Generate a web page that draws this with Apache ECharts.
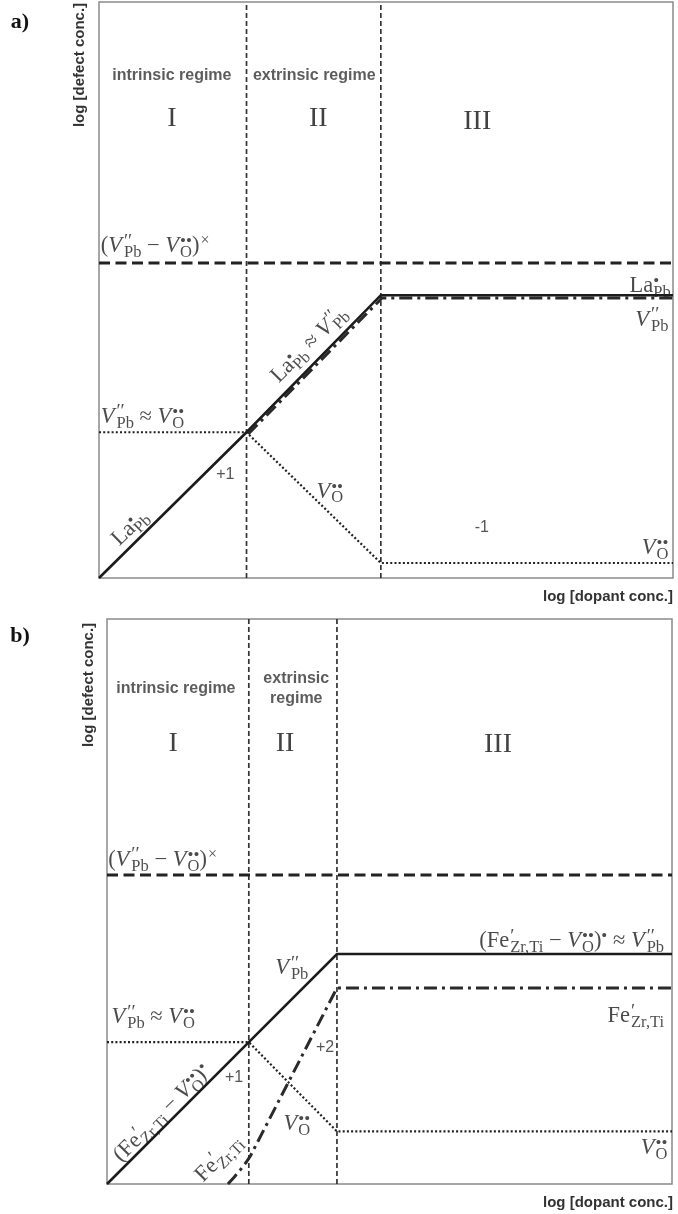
<!DOCTYPE html>
<html>
<head>
<meta charset="utf-8">
<script src="https://cdn.jsdelivr.net/npm/echarts@6/dist/echarts.min.js"></script>
<style>
  html, body { margin: 0; padding: 0; background: #fff; }
  #chart { width: 678px; height: 1214px; }
</style>
</head>
<body>
<div id="chart"></div>
<script>
// Brouwer-type defect diagrams, log[defect conc.] vs log[dopant conc.] (arbitrary log units 0..10)

// ---- a) donor (La) doping ----
const aBounds = [2.57, 4.91];              // regime I/II and II/III borders
const aAssocLevel = 5.47;                  // neutral (V''Pb - V..O)x associates
const aLaX = [0, 2.57, 4.91, 10];          // La.Pb
const aLaY = [0, 2.53, 4.91, 4.91];
const aVpbX = [2.6, 4.93, 10];             // V''Pb (regimes II, III)
const aVpbY = [2.5, 4.86, 4.86];
const aVoX = [0, 2.57, 4.91, 10];          // V..O
const aVoY = [2.53, 2.53, 0.26, 0.26];

// ---- b) acceptor (Fe) doping ----
const bBounds = [2.51, 4.07];
const bAssocLevel = 5.47;
const bClusterX = [0, 2.51, 4.07, 10];     // (Fe'Zr,Ti - V..O). ~ V''Pb
const bClusterY = [0, 2.51, 4.07, 4.07];
const bVoX = [0, 2.51, 4.07, 10];          // V..O
const bVoY = [2.51, 2.51, 0.93, 0.93];
const bFeX = [2.14, 2.25, 2.36, 2.46, 2.54, 4.07, 10];   // free Fe'Zr,Ti
const bFeY = [0, 0.12, 0.25, 0.38, 0.5, 3.47, 3.47];

// ---- text styles ----
const SERIF = '"Liberation Serif", "DejaVu Serif", serif';
const SANS = '"Liberation Sans", Arial, sans-serif';
const INK = '#1e1e1e';
const LH = 32;
const rich = {
  r:   { fontFamily: SERIF, fontSize: 22.5, color: INK, align: 'left', lineHeight: LH },
  v:   { fontFamily: SERIF, fontSize: 22.5, fontStyle: 'italic', color: INK, align: 'left', lineHeight: LH, padding: [0, 1, 0, 0] },
  sb:  { fontFamily: SERIF, fontSize: 16.5, color: INK, align: 'left', verticalAlign: 'bottom', padding: [0, 0, 1, 0] },
  sp:  { fontFamily: SERIF, fontSize: 16, color: INK, align: 'left', verticalAlign: 'top', padding: [3, 0, 0, 1] },
  spz: { fontFamily: SERIF, fontSize: 19, color: INK, align: 'left', verticalAlign: 'top', padding: [2, 0, 0, 1], width: 0 },
  dt:  { fontFamily: SERIF, fontSize: 17, color: INK, align: 'left', verticalAlign: 'top', padding: [3, 0, 0, 0] },
  dtz: { fontFamily: SERIF, fontSize: 17, color: INK, align: 'left', verticalAlign: 'top', padding: [3, 0, 0, 0], width: 0 },
  n:   { fontFamily: SANS, fontSize: 16, color: '#2a2a2a' },
  h:   { fontFamily: SANS, fontSize: 16, fontWeight: 'bold', color: '#333', lineHeight: 20 },
  rn:  { fontFamily: SERIF, fontSize: 28, color: '#111' }
};

// species symbols
const VPB = '{v|V}{spz|\u2032\u2032}{sb|Pb}';
const VO = '{v|V}{dtz|\u2022\u2022}{sb|O}';
const LA = '{r|La}{dtz|\u2022}{sb|Pb}';
const FE = '{r|Fe}{spz|\u2032}{sb|Zr,Ti}';
const APPROX = '{r| \u2248 }';
const MINUS = '{r| \u2212 }';
const ASSOC = '{r|(}' + VPB + MINUS + VO + '{r|)}{sp|\u00d7}';
const CLUSTER = '{r|(}' + FE + MINUS + VO + '{r|)}{dt|\u2022}';

// annotations placed in axis units
const notesA = [
  { x: 1.27, y: 8.73, t: '{h|intrinsic regime}' },
  { x: 3.75, y: 8.73, t: '{h|extrinsic regime}' },
  { x: 1.27, y: 7.97, t: '{rn|I}' },
  { x: 3.82, y: 7.97, t: '{rn|II}' },
  { x: 6.59, y: 7.93, t: '{rn|III}' },
  { x: 0.03, y: 5.76, t: ASSOC, align: 'left' },
  { x: 9.96, y: 5.07, t: LA, align: 'right' },
  { x: 9.92, y: 4.48, t: VPB, align: 'right' },
  { x: 9.92, y: 0.52, t: VO, align: 'right' },
  { x: 0.03, y: 2.8, t: VPB + APPROX + VO, align: 'left' },
  { x: 2.2, y: 1.79, t: '{n|+1}' },
  { x: 6.67, y: 0.87, t: '{n|-1}' },
  { x: 0.54, y: 0.87, t: LA, rot: 44 },
  { x: 4.02, y: 1.5, t: VO },
  { x: 3.66, y: 4.05, t: LA + APPROX + VPB, rot: 45 }
];
const notesB = [
  { x: 1.22, y: 8.76, t: '{h|intrinsic regime}' },
  { x: 3.35, y: 8.76, t: '{h|extrinsic}\n{h|regime}' },
  { x: 1.17, y: 7.79, t: '{rn|I}' },
  { x: 3.15, y: 7.79, t: '{rn|II}' },
  { x: 6.92, y: 7.77, t: '{rn|III}' },
  { x: 0.02, y: 5.74, t: ASSOC, align: 'left' },
  { x: 0.08, y: 2.95, t: VPB + APPROX + VO, align: 'left' },
  { x: 3.27, y: 3.82, t: VPB },
  { x: 2.25, y: 1.89, t: '{n|+1}' },
  { x: 3.86, y: 2.41, t: '{n|+2}' },
  { x: 3.36, y: 1.06, t: VO },
  { x: 0.98, y: 1.25, t: CLUSTER, rot: 45 },
  { x: 1.98, y: 0.45, t: FE, rot: 45 },
  { x: 9.86, y: 4.3, t: CLUSTER + APPROX + VPB, align: 'right' },
  { x: 9.86, y: 2.97, t: FE, align: 'right' },
  { x: 9.92, y: 0.63, t: VO, align: 'right' }
];

// ---- line styles ----
const SOLID = { color: '#1c1c1c', width: 2.6, type: 'solid' };
const DOTTED = { color: '#222', width: 2.2, type: [2, 2.2] };
const DASHDOT = { color: '#2a2a2a', width: 3, type: [13, 5, 3, 5] };
const ASSOC_DASH = { color: '#222', width: 3, type: [11, 5.5] };
const BORDER_DASH = { color: '#333', width: 1.7, type: [5, 3] };

const pts = (xs, ys) => xs.map((x, i) => [x, ys[i]]);

function line(g, data, style, z) {
  return {
    type: 'line', xAxisIndex: g, yAxisIndex: g, data: data,
    symbol: 'none', silent: true, animation: false,
    lineStyle: Object.assign({ cap: 'butt', join: 'miter' }, style), z: z
  };
}

function notes(g, list) {
  return {
    type: 'scatter', xAxisIndex: g, yAxisIndex: g, silent: true, animation: false,
    symbolSize: 1, itemStyle: { color: 'rgba(0,0,0,0)' }, z: 20,
    label: { show: true, position: 'inside', rich: rich, color: INK },
    data: list.map(n => ({
      value: [n.x, n.y],
      label: {
        formatter: () => n.t,
        align: n.align || 'center',
        verticalAlign: 'middle',
        rotate: n.rot || 0
      }
    }))
  };
}

function panel(g, bounds, assoc, series) {
  const out = bounds.map(b => line(g, [[b, 0], [b, 10]], BORDER_DASH, 2));
  out.push(line(g, [[0, assoc], [10, assoc]], ASSOC_DASH, 3));
  return out.concat(series);
}

const series = []
  .concat(panel(0, aBounds, aAssocLevel, [
    line(0, pts(aVoX, aVoY), DOTTED, 4),
    line(0, pts(aVpbX, aVpbY), DASHDOT, 5),
    line(0, pts(aLaX, aLaY), SOLID, 6)
  ]))
  .concat(panel(1, bBounds, bAssocLevel, [
    line(1, pts(bVoX, bVoY), DOTTED, 4),
    line(1, pts(bFeX, bFeY), DASHDOT, 5),
    line(1, pts(bClusterX, bClusterY), SOLID, 6)
  ]))
  .concat([notes(0, notesA), notes(1, notesB)]);

const axisTitle = 'bold 15px ' + SANS;
const panelFont = 'bold 22px ' + SERIF;

const option = {
  animation: false,
  backgroundColor: '#fff',
  grid: [
    { left: 99, top: 2, width: 574, height: 576, show: true, borderColor: '#8a8a8a', borderWidth: 1.5, backgroundColor: 'transparent' },
    { left: 107, top: 619, width: 565, height: 565, show: true, borderColor: '#8a8a8a', borderWidth: 1.5, backgroundColor: 'transparent' }
  ],
  xAxis: [0, 1].map(g => ({ type: 'value', gridIndex: g, min: 0, max: 10, show: false })),
  yAxis: [0, 1].map(g => ({ type: 'value', gridIndex: g, min: 0, max: 10, show: false })),
  graphic: [
    { type: 'text', x: 20, y: 22, style: { text: 'a)', font: panelFont, fill: '#111', align: 'center', verticalAlign: 'middle' } },
    { type: 'text', x: 20, y: 636, style: { text: 'b)', font: panelFont, fill: '#111', align: 'center', verticalAlign: 'middle' } },
    { type: 'text', x: 80, y: 65, rotation: Math.PI / 2, style: { text: 'log [defect conc.]', font: axisTitle, fill: '#333', align: 'center', verticalAlign: 'middle' } },
    { type: 'text', x: 89, y: 685, rotation: Math.PI / 2, style: { text: 'log [defect conc.]', font: axisTitle, fill: '#333', align: 'center', verticalAlign: 'middle' } },
    { type: 'text', x: 673, y: 597, style: { text: 'log [dopant conc.]', font: axisTitle, fill: '#333', align: 'right', verticalAlign: 'middle' } },
    { type: 'text', x: 673, y: 1203, style: { text: 'log [dopant conc.]', font: axisTitle, fill: '#333', align: 'right', verticalAlign: 'middle' } }
  ],
  series: series
};

const chart = echarts.init(document.getElementById('chart'), null, { renderer: 'canvas' });
chart.setOption(option);
</script>
</body>
</html>
